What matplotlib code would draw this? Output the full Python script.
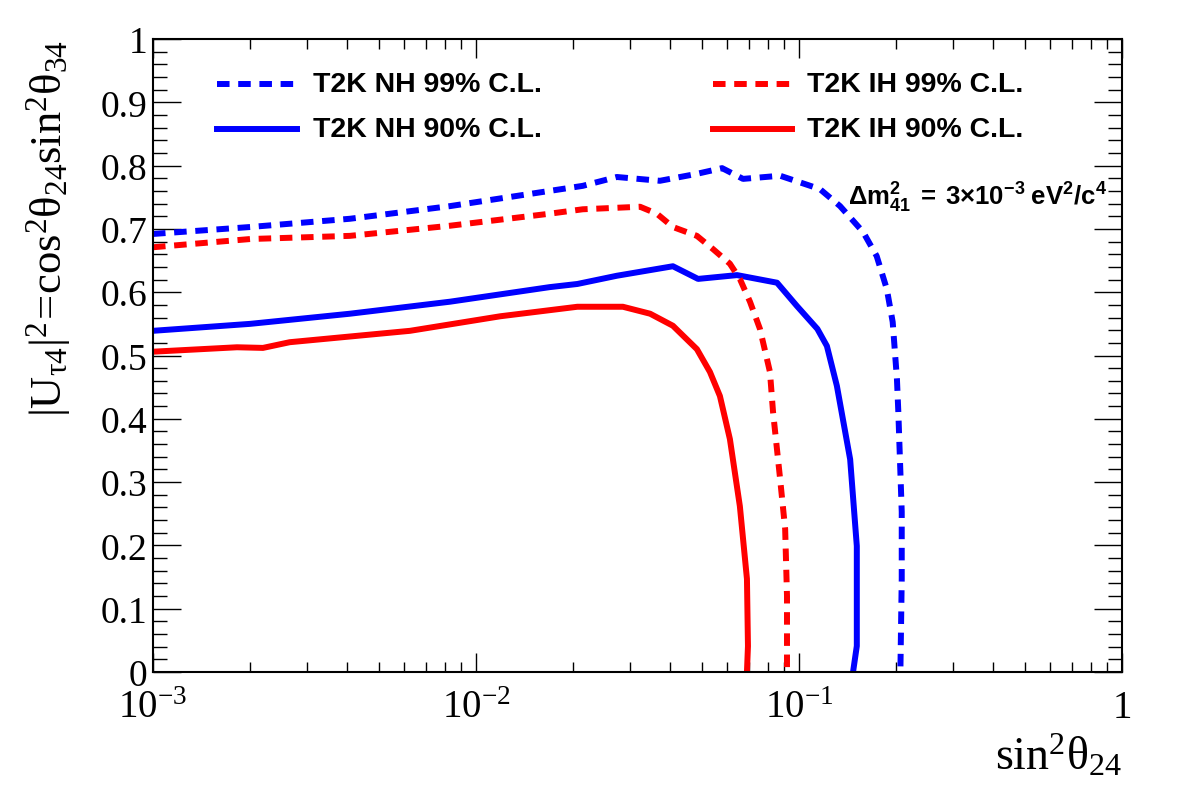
import matplotlib
matplotlib.use('Agg')
import matplotlib.pyplot as plt
from matplotlib.ticker import FixedLocator, MultipleLocator, LogLocator

plt.rcParams['mathtext.fontset'] = 'custom'
plt.rcParams['mathtext.rm'] = 'Liberation Serif'
plt.rcParams['mathtext.it'] = 'Liberation Serif:italic'
plt.rcParams['mathtext.bf'] = 'Liberation Sans:bold'
plt.rcParams['font.family'] = 'Liberation Serif'

# ---- data ----
nh99_x = [0.0010, 0.0020, 0.00407, 0.00831, 0.0169, 0.0214, 0.0273, 0.0371, 0.0483,
          0.0578, 0.0671, 0.0874, 0.116, 0.134, 0.158, 0.174, 0.187, 0.195, 0.201,
          0.203, 0.208, 0.208, 0.206]
nh99_y = [0.692, 0.703, 0.716, 0.736, 0.760, 0.768, 0.782, 0.776, 0.787,
          0.796, 0.779, 0.784, 0.763, 0.736, 0.695, 0.657, 0.605, 0.553, 0.463,
          0.411, 0.253, 0.147, 0.0]

ih99_x = [0.0010, 0.0020, 0.00407, 0.00831, 0.0169, 0.0214, 0.0322, 0.0363, 0.0407,
          0.0483, 0.0542, 0.0611, 0.0656, 0.0705, 0.0757, 0.0813, 0.0831, 0.0874,
          0.0906, 0.0918, 0.0918]
ih99_y = [0.671, 0.684, 0.689, 0.705, 0.724, 0.731, 0.735, 0.724, 0.703,
          0.689, 0.668, 0.645, 0.621, 0.585, 0.542, 0.474, 0.411, 0.305,
          0.226, 0.120, 0.0]

nh90_x = [0.0010, 0.0020, 0.00407, 0.00831, 0.0169, 0.0206, 0.0273, 0.0407, 0.0487,
          0.0643, 0.0855, 0.0986, 0.114, 0.122, 0.131, 0.144, 0.151, 0.151, 0.147]
nh90_y = [0.539, 0.550, 0.566, 0.585, 0.608, 0.613, 0.626, 0.641, 0.621,
          0.627, 0.615, 0.578, 0.542, 0.515, 0.452, 0.336, 0.199, 0.041, 0.0]

ih90_x = [0.0010, 0.00182, 0.00219, 0.00265, 0.00625, 0.0119, 0.0206, 0.0285, 0.0346,
          0.0407, 0.0483, 0.0530, 0.0569, 0.0611, 0.0656, 0.0690, 0.0695, 0.0690]
ih90_y = [0.506, 0.513, 0.512, 0.521, 0.539, 0.562, 0.577, 0.577, 0.566,
          0.547, 0.510, 0.474, 0.436, 0.368, 0.262, 0.147, 0.041, 0.0]

labels = ['T2K NH 99% C.L.', 'T2K NH 90% C.L.', 'T2K IH 99% C.L.', 'T2K IH 90% C.L.']
x_ticks = [1e-3, 1e-2, 1e-1, 1]
x_ticklabels = [r'$\mathrm{10^{-3}}$', r'$\mathrm{10^{-2}}$', r'$\mathrm{10^{-1}}$', '1']
y_ticks = [0, 0.1, 0.2, 0.3, 0.4, 0.5, 0.6, 0.7, 0.8, 0.9, 1]
y_ticklabels = ['0', '0.1', '0.2', '0.3', '0.4', '0.5', '0.6', '0.7', '0.8', '0.9', '1']

BLUE = '#0000ff'
RED = '#ff0000'
LW = 4.3
DASH = (2.1, 1.45)

fig = plt.figure(figsize=(11.82, 8.03), dpi=100)
ax = fig.add_axes([153/1182, 130/803, 969/1182, 633/803])

ax.plot(nh99_x, nh99_y, color=BLUE, lw=LW, dashes=DASH)
ax.plot(nh90_x, nh90_y, color=BLUE, lw=LW)
ax.plot(ih99_x, ih99_y, color=RED, lw=LW, dashes=DASH)
ax.plot(ih90_x, ih90_y, color=RED, lw=LW)

ax.set_xscale('log')
ax.set_xlim(1e-3, 1)
ax.set_ylim(0, 1)
ax.xaxis.set_major_locator(FixedLocator(x_ticks))
ax.set_xticklabels(x_ticklabels)
ax.yaxis.set_major_locator(FixedLocator(y_ticks))
ax.set_yticklabels(y_ticklabels)
ax.yaxis.set_minor_locator(MultipleLocator(0.02))
ax.xaxis.set_minor_locator(LogLocator(base=10, subs=range(2, 10), numticks=20))

ax.tick_params(which='both', direction='in', top=True, right=True, width=1.0, labelsize=27)
ax.tick_params(axis='y', which='major', length=20, pad=4)
ax.tick_params(axis='y', which='minor', length=10)
ax.tick_params(axis='x', which='major', length=14, pad=12, labelsize=28)
ax.tick_params(axis='x', which='minor', length=7)
for s in ax.spines.values():
    s.set_linewidth(1.5)

ax.set_ylabel(r'$\mathrm{|U_{\tau 4}|^{2}\!=\!cos^{2}\theta_{24}sin^{2}\theta_{34}}$', fontsize=32, loc='top')
ax.yaxis.set_label_coords(-0.083, 1.0)
ax.set_xlabel(r'$\mathrm{sin^{2}\theta_{24}}$', fontsize=33, loc='right')
ax.xaxis.set_label_coords(1.0, -0.095)

# manual legend (axes fractions)
leg = [(0.066, 0.149, 0.929, BLUE, True, labels[0]),
       (0.066, 0.149, 0.858, BLUE, False, labels[1]),
       (0.578, 0.659, 0.929, RED, True, labels[2]),
       (0.578, 0.659, 0.858, RED, False, labels[3])]
for x0, x1, yy, c, dashed, lab in leg:
    kw = dict(dashes=DASH) if dashed else {}
    ax.plot([x0, x1], [yy, yy], transform=ax.transAxes, color=c, lw=LW, **kw)
    ax.text(x1 + 0.016, yy, lab, transform=ax.transAxes, fontsize=20.5,
            family='Liberation Sans', weight='bold', va='center', ha='left')

ax.text(0.985, 0.750, r'$\mathbf{\Delta m^{2}_{41}\ =\ 3{\times}10^{-3}\ eV^{2}/c^{4}}$',
        transform=ax.transAxes, fontsize=18.5, ha='right', va='center')

fig.savefig('out.png', dpi=100)
